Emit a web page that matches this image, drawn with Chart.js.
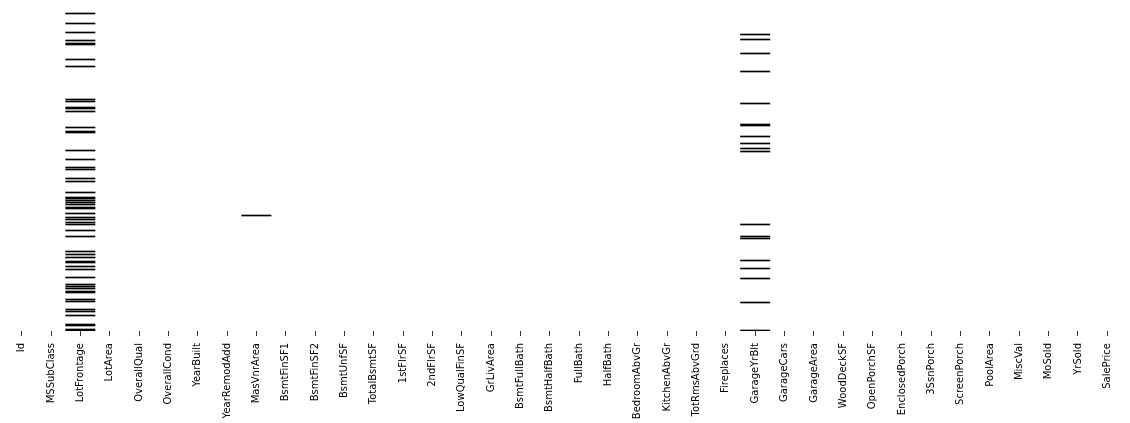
<!DOCTYPE html>
<html>
<head>
<meta charset="utf-8">
<script src="https://cdn.jsdelivr.net/npm/chart.js@4/dist/chart.umd.min.js"></script>
<style>
html,body{margin:0;padding:0;background:#fff;}
#wrap{width:1130px;height:423px;position:relative;}
</style>
</head>
<body>
<div id="wrap"><canvas id="c"></canvas></div>
<script>
// Columns of the data frame (x categories)
const columns = ["Id","MSSubClass","LotFrontage","LotArea","OverallQual","OverallCond","YearBuilt","YearRemodAdd","MasVnrArea","BsmtFinSF1","BsmtFinSF2","BsmtUnfSF","TotalBsmtSF","1stFlrSF","2ndFlrSF","LowQualFinSF","GrLivArea","BsmtFullBath","BsmtHalfBath","FullBath","HalfBath","BedroomAbvGr","KitchenAbvGr","TotRmsAbvGrd","Fireplaces","GarageYrBlt","GarageCars","GarageArea","WoodDeckSF","OpenPorchSF","EnclosedPorch","3SsnPorch","ScreenPorch","PoolArea","MiscVal","MoSold","YrSold","SalePrice"];

// Number of row bins shown on the vertical axis (top = first row)
const nRowBins = 321;

// Row bins flagged as missing (null) per column
const missingLotFrontage = [3,13,22,30,33,34,49,56,89,91,97,98,101,117,121,122,140,149,157,159,168,171,182,187,188,190,192,194,197,198,203,207,209,212,214,220,226,241,244,247,251,252,256,259,267,274,276,278,281,282,289,291,299,301,305,314,315,319,320];
const missingMasVnrArea = [205];
const missingGarageYrBlt = [24,29,43,61,93,114,115,126,133,138,141,214,226,228,250,258,268,292,320];

const missingByColumn = {
  "LotFrontage": missingLotFrontage,
  "MasVnrArea": missingMasVnrArea,
  "GarageYrBlt": missingGarageYrBlt
};

// build segments (merge consecutive bins)
const missingPoints = [];
for (const col of Object.keys(missingByColumn)) {
  const rows = missingByColumn[col].slice().sort((a,b)=>a-b);
  let start = null, prev = null;
  for (const r of rows) {
    if (start === null) { start = r; prev = r; continue; }
    if (r === prev + 1) { prev = r; continue; }
    missingPoints.push({x: col, y: [start, prev + 1]});
    start = r; prev = r;
  }
  if (start !== null) missingPoints.push({x: col, y: [start, prev + 1]});
}
const presentPoints = columns.map(c => ({x: c, y: [0, nRowBins]}));

new Chart(document.getElementById('c'), {
  type: 'bar',
  data: {
    labels: columns,
    datasets: [
      {label: 'present', data: presentPoints, backgroundColor: '#ffffff', borderWidth: 0,
       barPercentage: 1, categoryPercentage: 1, grouped: false, order: 2},
      {label: 'missing', data: missingPoints, backgroundColor: '#000000', borderWidth: 0,
       barPercentage: 1, categoryPercentage: 1, grouped: false, order: 1}
    ]
  },
  options: {
    responsive: true,
    maintainAspectRatio: false,
    animation: false,
    events: [],
    layout: {padding: {top: 10, left: 7, right: 8, bottom: 0}},
    plugins: {legend: {display: false}, tooltip: {enabled: false}},
    scales: {
      x: {
        type: 'category',
        offset: true,
        border: {display: false},
        grid: {display: true, offset: false, drawOnChartArea: false, drawTicks: true,
               tickLength: 5, tickColor: '#333', tickWidth: 1},
        ticks: {autoSkip: false, minRotation: 90, maxRotation: 90, padding: 7,
                color: '#000', font: {family: 'DejaVu Sans', size: 10}},
        afterFit: (scale) => { scale.height = 92; }
      },
      y: {
        type: 'linear', reverse: true, min: 0, max: nRowBins, display: false
      }
    }
  }
});
</script>
</body>
</html>
